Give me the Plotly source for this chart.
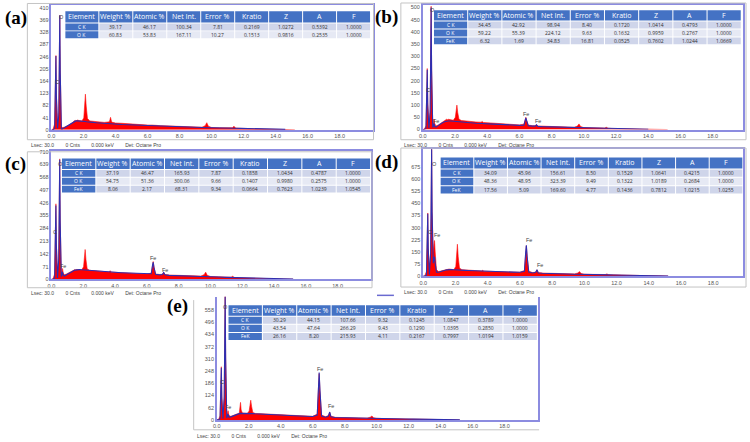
import plotly.graph_objects as go

W, H = 750, 442

# ---------------- data ----------------
energy = [0.00, 0.10, 0.20, 0.25, 0.28, 0.31, 0.38, 0.46, 0.50, 0.52, 0.55, 0.62, 0.67, 0.70, 0.74, 0.82,
          0.95, 1.10, 1.25, 1.40, 1.45, 1.48, 1.52, 1.60, 1.75, 1.90, 2.02, 2.07, 2.12, 2.17, 2.25, 2.40,
          2.60, 2.80, 3.00, 3.30, 3.62, 3.69, 3.76, 4.00, 4.40, 4.80, 5.20, 5.60, 6.00, 6.28, 6.36, 6.40,
          6.45, 6.55, 6.80, 6.98, 7.06, 7.14, 7.40, 7.80, 8.20, 8.60, 9.00, 9.40, 9.60, 9.70, 9.80, 10.00,
          10.50, 11.00, 11.30, 11.40, 11.50, 11.80, 12.30, 12.80, 13.40, 14.00, 14.60, 15.20]

red_a = [0, 2, 20, 150, 250, 120, 10, 60, 300, 385, 200, 12, 8, 9, 8, 9,
         12, 16, 22, 27, 30, 32, 29, 33, 31, 30, 40, 95, 120, 80, 38, 30,
         29, 27, 27, 25, 27, 42, 26, 23, 22, 20, 19, 18, 16, 16, 15, 16,
         15, 15, 14, 13, 14, 13, 13, 12, 11, 10, 10, 9, 14, 24, 12, 8,
         7, 6, 7, 12, 6, 5, 4, 3, 3, 2, 1, 0]
blue_a = [0, 0, 5, 140, 248, 110, 5, 50, 290, 385, 190, 3, 3, 4, 5, 8,
          13, 19, 24, 28, 29, 29, 30, 30, 30, 29, 28, 28, 28, 27, 27, 26,
          25, 24, 23, 22, 21, 21, 21, 20, 18, 17, 16, 15, 14, 13.5, 13, 13,
          13, 13, 12, 12, 11.5, 11.5, 11, 10, 9.5, 9, 8.5, 8, 8, 8, 8, 7.5,
          7, 6, 5.5, 5.5, 5.5, 5, 4.5, 4, 3, 2, 1.5, None]

red_b = [0, 2, 15, 150, 250, 110, 12, 80, 400, 505, 250, 20, 30, 43, 25, 15,
         18, 25, 32, 38, 40, 42, 40, 42, 40, 38, 50, 85, 100, 70, 42, 37,
         35, 34, 33, 31, 30, 33, 29, 28, 26, 24, 22, 20, 19, 22, 42, 50,
         38, 18, 16, 16, 20, 15, 14, 13, 12, 11, 10, 9, 14, 23, 12, 8,
         7, 6, 6, 9, 5, 4, 3, 2, 2, 1, 0, 0]
blue_b = [0, 0, 5, 140, 245, 100, 5, 70, 390, 500, 240, 8, 15, 25, 12, 10,
          16, 23, 29, 33, 34, 34, 35, 35, 35, 34, 33, 33, 32, 32, 31, 30,
          29, 28, 27, 26, 25, 25, 24, 24, 22, 21, 19, 18, 17, 18, 40, 48,
          36, 16, 14, 14, 19, 13, 12, 11, 10, 9.5, 9, 8, 8, 8, 7.5, 7,
          6, 5.5, 5, 5, 5, 4.5, 4, 3, 2, 1, None, None]

red_c = [0, 3, 30, 250, 420, 200, 20, 120, 550, 670, 330, 30, 45, 60, 35, 25,
         30, 38, 45, 50, 52, 54, 52, 55, 53, 52, 70, 140, 166, 110, 58, 50,
         48, 46, 45, 43, 41, 48, 40, 39, 37, 35, 33, 31, 29, 35, 85, 99,
         70, 30, 27, 28, 40, 27, 24, 22, 21, 20, 19, 18, 26, 40, 22, 16,
         14, 12, 12, 17, 10, 9, 7, 5, 4, 3, 2, 1]
blue_c = [0, 0, 8, 240, 410, 190, 8, 110, 540, 665, 320, 15, 30, 42, 22, 18,
          25, 34, 42, 48, 50, 51, 52, 53, 54, 53, 52, 52, 51, 51, 50, 49,
          48, 46, 45, 43, 41, 41, 40, 39, 37, 35, 33, 31, 29, 31, 80, 95,
          65, 28, 25, 27, 38, 25, 22, 20, 19, 18, 17, 16, 16, 16, 15, 14,
          13, 11, 10, 10, 10, 9, 8, 6, 5, 4, 3, 2]

red_d = [0, 3, 30, 230, 390, 180, 30, 150, 650, 790, 400, 150, 200, 220, 150, 40,
         28, 32, 36, 40, 41, 43, 41, 44, 42, 40, 60, 160, 197, 120, 50, 40,
         38, 37, 36, 34, 32, 36, 31, 30, 29, 28, 27, 25, 24, 35, 150, 187,
         120, 30, 22, 25, 39, 22, 19, 18, 17, 16, 15, 14, 20, 28, 16, 12,
         11, 10, 10, 14, 9, 8, 6, 5, 4, 3, 2, 1]
blue_d = [0, 0, 8, 220, 385, 170, 10, 140, 640, 785, 390, 80, 110, 120, 80, 25,
          24, 30, 35, 38, 39, 39, 40, 40, 41, 40, 40, 39, 39, 39, 38, 37,
          36, 35, 34, 33, 32, 31, 31, 30, 29, 28, 27, 25, 24, 30, 150, 190,
          120, 26, 20, 24, 40, 20, 18, 16, 15, 14, 13, 12, 12, 12, 11, 11,
          10, 9, 8, 8, 8, 7, 6, 5, 4, 3, 2, 1]

red_e = [0, 2, 20, 170, 270, 120, 15, 120, 520, 640, 320, 20, 35, 47, 28, 18,
         20, 26, 30, 33, 60, 89, 50, 35, 34, 33, 45, 85, 100, 70, 38, 33,
         32, 31, 30, 28, 27, 29, 26, 25, 24, 22, 21, 19, 18, 30, 190, 235,
         150, 25, 16, 22, 39, 18, 13, 12, 11, 10, 10, 9, 14, 20, 11, 8,
         7, 6, 6, 8, 5, 4, 3, 2, 2, 1, 1, 0]
blue_e = [0, 0, 6, 160, 265, 110, 6, 110, 510, 635, 310, 10, 22, 30, 15, 14,
          18, 24, 29, 32, 33, 33, 34, 34, 35, 34, 33, 33, 33, 32, 32, 31,
          30, 29, 28, 27, 26, 26, 25, 24, 23, 22, 20, 19, 17, 25, 190, 240,
          150, 20, 14, 20, 40, 16, 12, 11, 10, 9.5, 9, 8, 8, 8, 7.5, 7,
          6, 5.5, 5, 5, 5, 4.5, 4, 3, 2.5, 2, 1, 0.5]

x_ticks = [0, 2, 4, 6, 8, 10, 12, 14, 16, 18]
y_ticks_a = [0, 41, 82, 123, 164, 205, 246, 287, 328, 369, 410]
y_ticks_b = [0, 50, 100, 150, 200, 250, 300, 350, 400, 450, 500]
y_ticks_c = [0, 71, 142, 213, 284, 355, 426, 497, 568, 639, 710]
y_ticks_d = [0, 75, 150, 225, 300, 375, 450, 525, 600, 675]
y_ticks_e = [0, 62, 124, 186, 248, 310, 372, 434, 496, 558]

headers = ["Element", "Weight %", "Atomic %", "Net Int.", "Error %", "Kratio", "Z", "A", "F"]
elements_2 = ["C K", "O K"]
elements_3 = ["C K", "O K", "FeK"]
table_a = [["39.17", "46.17", "100.34", "7.81", "0.2169", "1.0272", "0.5392", "1.0000"],
           ["60.83", "53.83", "167.11", "10.27", "0.1513", "0.9816", "0.2535", "1.0000"]]
table_b = [["34.45", "42.92", "98.94", "8.40", "0.1720", "1.0414", "0.4793", "1.0000"],
           ["59.22", "55.39", "224.12", "9.63", "0.1632", "0.9959", "0.2767", "1.0000"],
           ["6.32", "1.69", "34.83", "16.81", "0.0525", "0.7602", "1.0244", "1.0669"]]
table_c = [["37.19", "46.47", "165.93", "7.87", "0.1858", "1.0434", "0.4787", "1.0000"],
           ["54.75", "51.36", "300.06", "9.66", "0.1407", "0.9980", "0.2575", "1.0000"],
           ["8.06", "2.17", "68.31", "9.34", "0.0664", "0.7623", "1.0239", "1.0545"]]
table_d = [["34.09", "45.96", "156.61", "8.50", "0.1529", "1.0641", "0.4215", "1.0000"],
           ["48.36", "48.95", "323.39", "9.49", "0.1322", "1.0189", "0.2684", "1.0000"],
           ["17.56", "5.09", "169.60", "4.77", "0.1436", "0.7812", "1.0215", "1.0255"]]
table_e = [["30.29", "44.15", "107.66", "9.32", "0.1245", "1.0847", "0.3789", "1.0000"],
           ["43.54", "47.64", "266.29", "9.43", "0.1290", "1.0395", "0.2850", "1.0000"],
           ["26.16", "8.20", "215.93", "4.11", "0.2167", "0.7997", "1.0194", "1.0159"]]

footer_text = "Lsec: 30.0\u2003\u2003 0 Cnts\u2003\u2003 0.000 keV\u2003\u2003 Det: Octane Pro"

# ---------------- layout helpers ----------------
def fx(px):
    return px / W

def fy(py):
    return 1 - py / H

panels = [
    dict(n="a", red=red_a, blue=blue_a, yt=y_ticks_a, pb=(47.7, 370.5, 3.3, 129.3), xmax=20.05, ymax=419,
         box=(23.5, 371.5, 1.5, 139.3), lab=(12, 16), foot=(25, 145), elems=elements_2, tab=table_a,
         tb=(61.7, 369, 9.3, 11.4, 8), top=True,
         peaks=[("O", 0.62, 380), ("C", 0.33, 160)]),
    dict(n="b", red=red_b, blue=blue_b, yt=y_ticks_b, pb=(421, 743.3, 3.3, 129), xmax=19.9, ymax=509,
         box=(399, 746, 1, 139.3), lab=(385, 15), foot=(400, 144.3), elems=elements_3, tab=table_b,
         tb=(432.3, 741.7, 8.3, 10.5, 8), top=True,
         peaks=[("O", 0.62, 490), ("C", 0.35, 161), ("Fe", 0.8, 36), ("Fe", 6.42, 62), ("Fe", 7.16, 36)]),
    dict(n="c", red=red_c, blue=blue_c, yt=y_ticks_c, pb=(47.7, 369, 150.5, 280.5), xmax=20.1, ymax=715,
         box=(23.5, 370, 151.5, 289), lab=(12, 164), foot=(25, 294.5), elems=elements_3, tab=table_c,
         tb=(58.3, 369, 158.3, 10.5, 8), top=True,
         peaks=[("O", 0.55, 639), ("C", 0.25, 265), ("Fe", 0.7, 72), ("Fe", 6.41, 117), ("Fe", 7.14, 54)]),
    dict(n="d", red=red_d, blue=blue_d, yt=y_ticks_d, pb=(421.5, 743.3, 149, 277.3), xmax=19.87, ymax=783,
         box=(399, 746, 147.7, 288.3), lab=(385, 162), foot=(400, 293.2), elems=elements_3, tab=table_d,
         tb=(439, 743.3, 157.3, 11, 8.5), top=True,
         peaks=[("O", 0.72, 691), ("C", 0.43, 274), ("Fe", 0.88, 254), ("Fe", 6.56, 221), ("Fe", 7.24, 69)]),
    dict(n="e", red=red_e, blue=blue_e, yt=y_ticks_e, pb=(214, 537, 298, 422.7), xmax=20.1, ymax=626,
         box=(190.7, 538, 301.5, 432.7), lab=(174, 307), foot=(192, 438.7), elems=elements_3, tab=table_e,
         tb=(225.7, 536.7, 306.7, 10.6, 8.2), top=False,
         peaks=[("O", 0.56, 575), ("C", 0.3, 190), ("Fe", 0.72, 64), ("Fe", 6.43, 256), ("Fe", 7.12, 72)]),
]

fig = go.Figure()
shapes = []
annotations = []
layout_axes = {}

FRAME = "#8C8CE0"
HEAD = "#4472C4"
BANDS = ["#CFD5EA", "#E6E9F4", "#CFD5EA"]


def cell(x0, x1, y0, y1, color, text, tcolor, size):
    shapes.append(dict(type="rect", xref="paper", yref="paper", x0=fx(x0), x1=fx(x1), y0=fy(y1), y1=fy(y0),
                       fillcolor=color, line=dict(width=0), layer="above"))
    annotations.append(dict(text=text, x=fx((x0 + x1) / 2), y=fy((y0 + y1) / 2), xref="paper", yref="paper",
                            showarrow=False, xanchor="center", yanchor="middle",
                            font=dict(family="Open Sans", size=size, color=tcolor)))


for i, p in enumerate(panels):
    k = "" if i == 0 else str(i + 1)
    xa, ya = "x" + k, "y" + k
    x0, x1, yt_, yb_ = p["pb"]
    fig.add_trace(go.Scatter(x=energy, y=p["red"], xaxis=xa, yaxis=ya, mode="lines",
                             line=dict(color="#FF1010", width=0.6), fill="tozeroy",
                             fillcolor="#FF0000", hoverinfo="skip", showlegend=False))
    fig.add_trace(go.Scatter(x=energy, y=p["blue"], xaxis=xa, yaxis=ya, mode="lines",
                             line=dict(color="#2E2EB0", width=1.1), hoverinfo="skip",
                             showlegend=False, connectgaps=False))
    layout_axes["xaxis" + k] = dict(domain=[fx(x0), fx(x1)], anchor=ya, range=[0, p["xmax"]],
                                    tickvals=x_ticks, ticktext=[f"{v:.1f}" for v in x_ticks],
                                    showgrid=False, zeroline=False, showline=True, linecolor=FRAME,
                                    linewidth=1.5, mirror=p["top"], ticks="", ticklen=0,
                                    tickfont=dict(size=5.5, color="#555", family="Liberation Sans"))
    layout_axes["yaxis" + k] = dict(domain=[fy(yb_), fy(yt_)], anchor=xa, range=[0, p["ymax"]],
                                    tickvals=p["yt"], ticktext=[str(v) for v in p["yt"]],
                                    showgrid=False, zeroline=False, showline=True, linecolor=FRAME,
                                    linewidth=1.5, mirror=True, ticks="", ticklen=0,
                                    tickfont=dict(size=5.5, color="#555", family="Liberation Sans"))
    bx0, bx1, by0, by1 = p["box"]
    if p["n"] == "e":
        shapes.append(dict(type="line", xref="paper", yref="paper", x0=fx(bx0), x1=fx(bx0),
                           y0=fy(by0), y1=fy(by1), line=dict(color="#C4C4C4", width=1)))
        shapes.append(dict(type="line", xref="paper", yref="paper", x0=fx(bx0), x1=fx(bx1),
                           y0=fy(by1), y1=fy(by1), line=dict(color="#C4C4C4", width=1)))
    else:
        shapes.append(dict(type="rect", xref="paper", yref="paper", x0=fx(bx0), x1=fx(bx1),
                           y0=fy(by1), y1=fy(by0), line=dict(color="#C4C4C4", width=1)))
    annotations.append(dict(text=f"<b>({p['n']})</b>", x=fx(p["lab"][0]), y=fy(p["lab"][1]), xref="paper",
                            yref="paper", showarrow=False, xanchor="center", yanchor="middle",
                            font=dict(family="Liberation Serif", size=19, color="black")))
    annotations.append(dict(text=footer_text, x=fx(p["foot"][0]), y=fy(p["foot"][1]), xref="paper",
                            yref="paper", showarrow=False, xanchor="left", yanchor="middle",
                            font=dict(family="Liberation Sans", size=5, color="#444")))
    for txt, ex, cy in p["peaks"]:
        annotations.append(dict(text=txt, x=ex, y=cy, xref=xa, yref=ya, showarrow=False,
                                xanchor="center", yanchor="middle",
                                font=dict(family="Liberation Sans", size=5.5, color="#444")))
    # table drawn as cells
    tx0, tx1, ttop, hh, rh = p["tb"]
    cw = (tx1 - tx0) / 9
    for j, h in enumerate(headers):
        cell(tx0 + j * cw, tx0 + (j + 1) * cw - 1, ttop, ttop + hh, HEAD, h, "white", 7)
    for r, el in enumerate(p["elems"]):
        ry0 = ttop + hh + 1 + r * rh
        ry1 = ry0 + rh - 1
        cell(tx0, tx0 + cw - 1, ry0, ry1, HEAD, el, "white", 5)
        for j, v in enumerate(p["tab"][r]):
            cell(tx0 + (j + 1) * cw, tx0 + (j + 2) * cw - 1, ry0, ry1, BANDS[r], v, "#333", 5)

shapes.append(dict(type="line", xref="paper", yref="paper", x0=fx(375), x1=fx(392), y0=fy(296.7),
                   y1=fy(296.7), line=dict(color="#6A6AD0", width=1.5)))

fig.update_layout(width=W, height=H, margin=dict(l=0, r=0, t=0, b=0), paper_bgcolor="white",
                  plot_bgcolor="white", showlegend=False, shapes=shapes, annotations=annotations,
                  **layout_axes)
fig.write_html("out.html")
